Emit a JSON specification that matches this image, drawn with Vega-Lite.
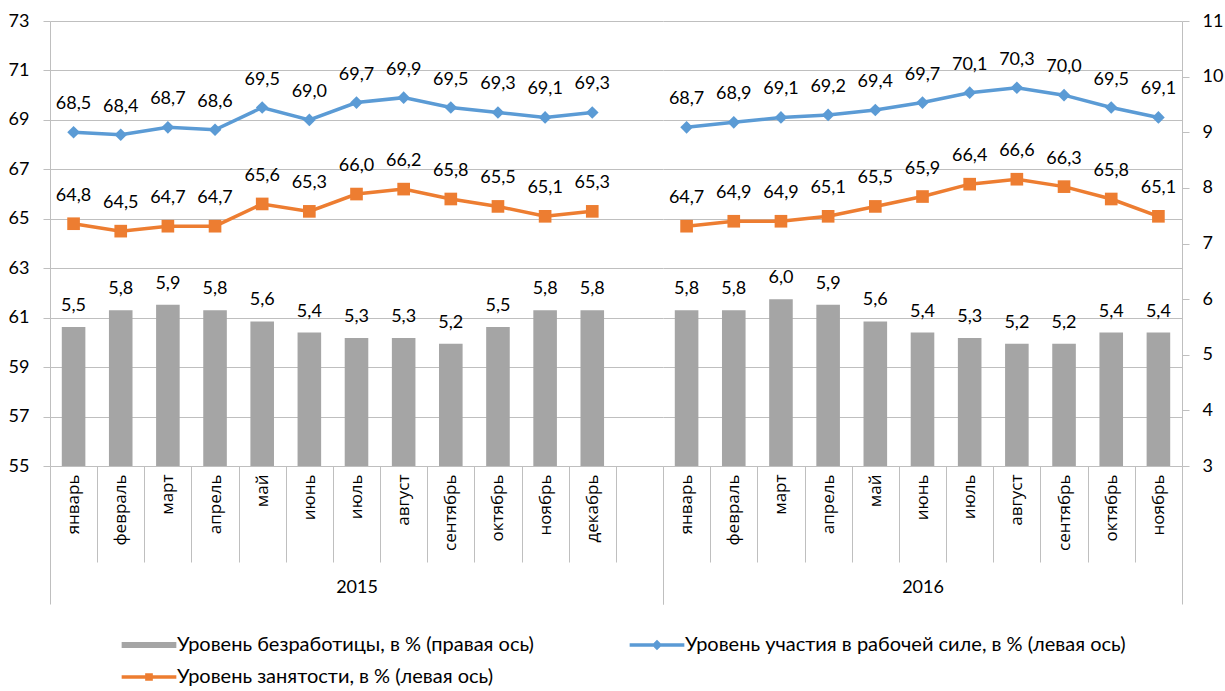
{
  "$schema": "https://vega.github.io/schema/vega-lite/v6.json",
  "padding": {"left": 8, "top": 12, "right": 5, "bottom": 0},
  "spacing": 0,
  "bounds": "flush",
  "config": {
    "locale": {"number": {"decimal": ",", "thousands": " ", "grouping": [3], "currency": ["", ""]}},
    "view": {"stroke": null},
    "axis": {"labelColor": "#000000", "labelFont": "Lato", "labelFontSize": 18, "tickColor": "#BFBFBF", "domainColor": "#BFBFBF", "gridColor": "#BFBFBF", "title": null, "titleFont": "Lato", "titleFontSize": 18, "titleFontWeight": "normal", "titleColor": "#000000"}
  },
  "datasets": {
    "rows": [
      {"k": "январь|2015", "yr": "2015", "s": "1U", "v": 5.5}, {"k": "январь|2015", "yr": "2015", "s": "2P", "v": 68.5}, {"k": "январь|2015", "yr": "2015", "s": "3E", "v": 64.8},
      {"k": "февраль|2015", "yr": "2015", "s": "1U", "v": 5.8}, {"k": "февраль|2015", "yr": "2015", "s": "2P", "v": 68.4}, {"k": "февраль|2015", "yr": "2015", "s": "3E", "v": 64.5},
      {"k": "март|2015", "yr": "2015", "s": "1U", "v": 5.9}, {"k": "март|2015", "yr": "2015", "s": "2P", "v": 68.7}, {"k": "март|2015", "yr": "2015", "s": "3E", "v": 64.7},
      {"k": "апрель|2015", "yr": "2015", "s": "1U", "v": 5.8}, {"k": "апрель|2015", "yr": "2015", "s": "2P", "v": 68.6}, {"k": "апрель|2015", "yr": "2015", "s": "3E", "v": 64.7},
      {"k": "май|2015", "yr": "2015", "s": "1U", "v": 5.6}, {"k": "май|2015", "yr": "2015", "s": "2P", "v": 69.5}, {"k": "май|2015", "yr": "2015", "s": "3E", "v": 65.6},
      {"k": "июнь|2015", "yr": "2015", "s": "1U", "v": 5.4}, {"k": "июнь|2015", "yr": "2015", "s": "2P", "v": 69.0}, {"k": "июнь|2015", "yr": "2015", "s": "3E", "v": 65.3},
      {"k": "июль|2015", "yr": "2015", "s": "1U", "v": 5.3}, {"k": "июль|2015", "yr": "2015", "s": "2P", "v": 69.7}, {"k": "июль|2015", "yr": "2015", "s": "3E", "v": 66.0},
      {"k": "август|2015", "yr": "2015", "s": "1U", "v": 5.3}, {"k": "август|2015", "yr": "2015", "s": "2P", "v": 69.9}, {"k": "август|2015", "yr": "2015", "s": "3E", "v": 66.2},
      {"k": "сентябрь|2015", "yr": "2015", "s": "1U", "v": 5.2}, {"k": "сентябрь|2015", "yr": "2015", "s": "2P", "v": 69.5}, {"k": "сентябрь|2015", "yr": "2015", "s": "3E", "v": 65.8},
      {"k": "октябрь|2015", "yr": "2015", "s": "1U", "v": 5.5}, {"k": "октябрь|2015", "yr": "2015", "s": "2P", "v": 69.3}, {"k": "октябрь|2015", "yr": "2015", "s": "3E", "v": 65.5},
      {"k": "ноябрь|2015", "yr": "2015", "s": "1U", "v": 5.8}, {"k": "ноябрь|2015", "yr": "2015", "s": "2P", "v": 69.1}, {"k": "ноябрь|2015", "yr": "2015", "s": "3E", "v": 65.1},
      {"k": "декабрь|2015", "yr": "2015", "s": "1U", "v": 5.8}, {"k": "декабрь|2015", "yr": "2015", "s": "2P", "v": 69.3}, {"k": "декабрь|2015", "yr": "2015", "s": "3E", "v": 65.3},
      {"k": "январь|2016", "yr": "2016", "s": "1U", "v": 5.8}, {"k": "январь|2016", "yr": "2016", "s": "2P", "v": 68.7}, {"k": "январь|2016", "yr": "2016", "s": "3E", "v": 64.7},
      {"k": "февраль|2016", "yr": "2016", "s": "1U", "v": 5.8}, {"k": "февраль|2016", "yr": "2016", "s": "2P", "v": 68.9}, {"k": "февраль|2016", "yr": "2016", "s": "3E", "v": 64.9},
      {"k": "март|2016", "yr": "2016", "s": "1U", "v": 6.0}, {"k": "март|2016", "yr": "2016", "s": "2P", "v": 69.1}, {"k": "март|2016", "yr": "2016", "s": "3E", "v": 64.9},
      {"k": "апрель|2016", "yr": "2016", "s": "1U", "v": 5.9}, {"k": "апрель|2016", "yr": "2016", "s": "2P", "v": 69.2}, {"k": "апрель|2016", "yr": "2016", "s": "3E", "v": 65.1},
      {"k": "май|2016", "yr": "2016", "s": "1U", "v": 5.6}, {"k": "май|2016", "yr": "2016", "s": "2P", "v": 69.4}, {"k": "май|2016", "yr": "2016", "s": "3E", "v": 65.5},
      {"k": "июнь|2016", "yr": "2016", "s": "1U", "v": 5.4}, {"k": "июнь|2016", "yr": "2016", "s": "2P", "v": 69.7}, {"k": "июнь|2016", "yr": "2016", "s": "3E", "v": 65.9},
      {"k": "июль|2016", "yr": "2016", "s": "1U", "v": 5.3}, {"k": "июль|2016", "yr": "2016", "s": "2P", "v": 70.1}, {"k": "июль|2016", "yr": "2016", "s": "3E", "v": 66.4},
      {"k": "август|2016", "yr": "2016", "s": "1U", "v": 5.2}, {"k": "август|2016", "yr": "2016", "s": "2P", "v": 70.3}, {"k": "август|2016", "yr": "2016", "s": "3E", "v": 66.6},
      {"k": "сентябрь|2016", "yr": "2016", "s": "1U", "v": 5.2}, {"k": "сентябрь|2016", "yr": "2016", "s": "2P", "v": 70.0}, {"k": "сентябрь|2016", "yr": "2016", "s": "3E", "v": 66.3},
      {"k": "октябрь|2016", "yr": "2016", "s": "1U", "v": 5.4}, {"k": "октябрь|2016", "yr": "2016", "s": "2P", "v": 69.5}, {"k": "октябрь|2016", "yr": "2016", "s": "3E", "v": 65.8},
      {"k": "ноябрь|2016", "yr": "2016", "s": "1U", "v": 5.4}, {"k": "ноябрь|2016", "yr": "2016", "s": "2P", "v": 69.1}, {"k": "ноябрь|2016", "yr": "2016", "s": "3E", "v": 65.1}
    ]
  },
  "hconcat": [
    {
      "width": 613,
      "height": 445,
      "data": {"name": "rows"},
      "transform": [{"filter": "datum.yr === '2015'"}],
      "encoding": {
        "x": {
          "field": "k",
          "type": "nominal",
          "scale": {
            "domain": ["январь|2015", "февраль|2015", "март|2015", "апрель|2015", "май|2015", "июнь|2015", "июль|2015", "август|2015", "сентябрь|2015", "октябрь|2015", "ноябрь|2015", "декабрь|2015", " |gap"],
            "paddingInner": 0,
            "paddingOuter": 0
          },
          "axis": {
            "orient": "bottom",
            "title": "2015",
            "titlePadding": -26,
            "labelExpr": "datum.value ? split(datum.value, '|')[0] : ''",
            "labelAngle": -90,
            "labelAlign": "right",
            "labelBaseline": "middle",
            "labelFont": "Open Sans",
            "labelFontSize": 17,
            "labelPadding": {"condition": {"test": "datum.extra || datum.value === ' |gap'", "value": -130}, "value": -88},
            "tickBand": "extent",
            "tickSize": {"condition": {"test": "datum.extra || datum.value === ' |gap'", "value": 138}, "value": 96},
            "domain": false,
            "grid": false,
            "labelOverlap": false
          }
        }
      },
      "layer": [
        {
          "transform": [{"filter": "datum.s === '1U'"}],
          "encoding": {
            "y": {
              "field": "v",
              "type": "quantitative",
              "scale": {"domain": [3, 11], "nice": false, "zero": false},
              "axis": null
            }
          },
          "layer": [
            {
              "mark": {"type": "bar", "width": {"band": 0.5}},
              "encoding": {
                "y2": {"datum": 3},
                "color": {
                  "field": "s",
                  "type": "nominal",
                  "scale": {"domain": ["1U", "2P", "3E"], "range": ["#A5A5A5", "#5B9BD5", "#ED7D31"]},
                  "legend": {
                    "orient": "none",
                    "legendX": 84,
                    "legendY": 609,
                    "direction": "horizontal",
                    "columns": 2,
                    "columnPadding": 93,
                    "rowPadding": 7,
                    "symbolSize": 784,
                    "labelOffset": 13,
                    "labelFont": "Lato",
                    "labelFontSize": 20,
                    "labelColor": "#000000",
                    "labelLimit": 0,
                    "title": null,
                    "labelExpr": "datum.value === '1U' ? 'Уровень безработицы, в % (правая ось)' : datum.value === '2P' ? 'Уровень участия в рабочей силе, в % (левая ось)' : 'Уровень занятости, в % (левая ось)'",
                    "encode": {
                      "symbols": {
                        "update": {
                          "shape": {"signal": "datum.value === '1U' ? 'M-1.9,-0.16H1.9V0.16H-1.9Z' : datum.value === '2P' ? 'M-1.9,-0.07H1.9V0.07H-1.9Z M0,-0.3L0.3,0L0,0.3L-0.3,0Z' : 'M-1.9,-0.07H1.9V0.07H-1.9Z M-0.22,-0.22H0.22V0.22H-0.22Z'"},
                          "fill": {"signal": "datum.value === '1U' ? '#A5A5A5' : datum.value === '2P' ? '#5B9BD5' : '#ED7D31'"},
                          "stroke": {"value": "transparent"},
                          "opacity": {"value": 1}
                        }
                      }
                    }
                  }
                }
              }
            },
            {
              "mark": {"type": "text", "baseline": "alphabetic", "dy": -16, "font": "Lato", "fontSize": 18, "color": "#000000"},
              "encoding": {"text": {"field": "v", "type": "quantitative", "format": ".1f"}}
            }
          ]
        },
        {
          "transform": [{"filter": "datum.s !== '1U'"}],
          "encoding": {
            "y": {
              "field": "v",
              "type": "quantitative",
              "scale": {"domain": [55, 73], "nice": false, "zero": false},
              "axis": {"orient": "left", "values": [55, 57, 59, 61, 63, 65, 67, 69, 71, 73], "grid": true, "tickSize": 7, "labelPadding": 14}
            }
          },
          "layer": [
            {
              "mark": {"type": "line", "strokeWidth": 3.5},
              "encoding": {
                "color": {"field": "s", "type": "nominal", "scale": {"domain": ["1U", "2P", "3E"], "range": ["#A5A5A5", "#5B9BD5", "#ED7D31"]}}
              }
            },
            {
              "mark": {"type": "point", "filled": true, "opacity": 1, "size": 160},
              "encoding": {
                "color": {"field": "s", "type": "nominal", "scale": {"domain": ["1U", "2P", "3E"], "range": ["#A5A5A5", "#5B9BD5", "#ED7D31"]}},
                "shape": {"field": "s", "type": "nominal", "scale": {"domain": ["2P", "3E"], "range": ["diamond", "square"]}, "legend": null}
              }
            },
            {
              "mark": {"type": "text", "baseline": "alphabetic", "dy": -23, "font": "Lato", "fontSize": 18, "color": "#000000"},
              "encoding": {"text": {"field": "v", "type": "quantitative", "format": ".1f"}}
            }
          ]
        }
      ],
      "resolve": {"scale": {"y": "independent"}}
    },
    {
      "width": 519,
      "height": 445,
      "data": {"name": "rows"},
      "transform": [{"filter": "datum.yr === '2016'"}],
      "encoding": {
        "x": {
          "field": "k",
          "type": "nominal",
          "scale": {
            "domain": ["январь|2016", "февраль|2016", "март|2016", "апрель|2016", "май|2016", "июнь|2016", "июль|2016", "август|2016", "сентябрь|2016", "октябрь|2016", "ноябрь|2016"],
            "paddingInner": 0,
            "paddingOuter": 0
          },
          "axis": {
            "orient": "bottom",
            "title": "2016",
            "titlePadding": -26,
            "labelExpr": "datum.value ? split(datum.value, '|')[0] : ''",
            "labelAngle": -90,
            "labelAlign": "right",
            "labelBaseline": "middle",
            "labelFont": "Open Sans",
            "labelFontSize": 17,
            "labelPadding": {"condition": {"test": "datum.extra || datum.value === 'ноябрь|2016'", "value": -130}, "value": -88},
            "tickBand": "extent",
            "tickSize": {"condition": {"test": "datum.extra || datum.value === 'ноябрь|2016'", "value": 138}, "value": 96},
            "domain": false,
            "grid": false,
            "labelOverlap": false
          }
        }
      },
      "layer": [
        {
          "transform": [{"filter": "datum.s === '1U'"}],
          "encoding": {
            "y": {
              "field": "v",
              "type": "quantitative",
              "scale": {"domain": [3, 11], "nice": false, "zero": false},
              "axis": {"orient": "right", "values": [3, 4, 5, 6, 7, 8, 9, 10, 11], "grid": false, "tickSize": 7, "labelPadding": 13}
            }
          },
          "layer": [
            {
              "mark": {"type": "bar", "width": {"band": 0.5}},
              "encoding": {
                "y2": {"datum": 3},
                "color": {"field": "s", "type": "nominal", "scale": {"domain": ["1U", "2P", "3E"], "range": ["#A5A5A5", "#5B9BD5", "#ED7D31"]}}
              }
            },
            {
              "mark": {"type": "text", "baseline": "alphabetic", "dy": -16, "font": "Lato", "fontSize": 18, "color": "#000000"},
              "encoding": {"text": {"field": "v", "type": "quantitative", "format": ".1f"}}
            }
          ]
        },
        {
          "transform": [{"filter": "datum.s !== '1U'"}],
          "encoding": {
            "y": {
              "field": "v",
              "type": "quantitative",
              "scale": {"domain": [55, 73], "nice": false, "zero": false},
              "axis": {"orient": "left", "values": [55, 57, 59, 61, 63, 65, 67, 69, 71, 73], "grid": true, "labels": false, "ticks": false, "domain": false}
            }
          },
          "layer": [
            {
              "mark": {"type": "line", "strokeWidth": 3.5},
              "encoding": {
                "color": {"field": "s", "type": "nominal", "scale": {"domain": ["1U", "2P", "3E"], "range": ["#A5A5A5", "#5B9BD5", "#ED7D31"]}}
              }
            },
            {
              "mark": {"type": "point", "filled": true, "opacity": 1, "size": 160},
              "encoding": {
                "color": {"field": "s", "type": "nominal", "scale": {"domain": ["1U", "2P", "3E"], "range": ["#A5A5A5", "#5B9BD5", "#ED7D31"]}},
                "shape": {"field": "s", "type": "nominal", "scale": {"domain": ["2P", "3E"], "range": ["diamond", "square"]}, "legend": null}
              }
            },
            {
              "mark": {"type": "text", "baseline": "alphabetic", "dy": -23, "font": "Lato", "fontSize": 18, "color": "#000000"},
              "encoding": {"text": {"field": "v", "type": "quantitative", "format": ".1f"}}
            }
          ]
        }
      ],
      "resolve": {"scale": {"y": "independent"}}
    }
  ]
}
